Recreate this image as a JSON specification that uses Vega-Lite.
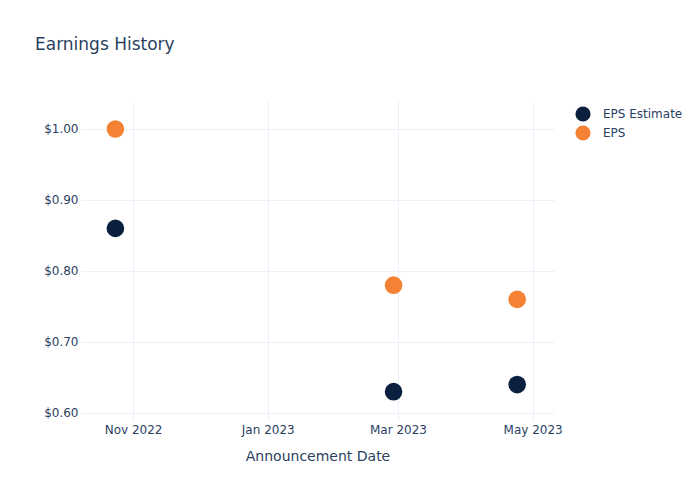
{
  "$schema": "https://vega.github.io/schema/vega-lite/v6.json",
  "width": 473,
  "height": 320,
  "autosize": {"type": "none"},
  "padding": {"left": 81, "top": 101, "right": 146, "bottom": 79},
  "background": "white",
  "title": {
    "text": "Earnings History",
    "anchor": "start",
    "frame": "group",
    "dx": -46,
    "offset": 47,
    "fontSize": 17,
    "font": "DejaVu Sans",
    "fontWeight": "normal",
    "color": "#2a3f5f"
  },
  "config": {
    "view": {"stroke": null},
    "font": "DejaVu Sans"
  },
  "data": {
    "values": [
      {"date": "2022-10-24", "series": "EPS Estimate", "value": 0.86},
      {"date": "2023-02-27", "series": "EPS Estimate", "value": 0.63},
      {"date": "2023-04-24", "series": "EPS Estimate", "value": 0.64},
      {"date": "2022-10-24", "series": "EPS", "value": 1.00},
      {"date": "2023-02-27", "series": "EPS", "value": 0.78},
      {"date": "2023-04-24", "series": "EPS", "value": 0.76}
    ]
  },
  "mark": {"type": "point", "shape": "circle", "filled": true, "opacity": 1, "size": 310},
  "encoding": {
    "x": {
      "field": "date",
      "type": "temporal",
      "scale": {
        "type": "utc",
        "domain": [
          {"year": 2022, "month": 10, "date": 8, "hours": 10, "utc": true},
          {"year": 2023, "month": 5, "date": 10, "hours": 16, "utc": true}
        ]
      },
      "axis": {
        "title": "Announcement Date",
        "values": [
          {"year": 2022, "month": 11, "date": 1, "utc": true},
          {"year": 2023, "month": 1, "date": 1, "utc": true},
          {"year": 2023, "month": 3, "date": 1, "utc": true},
          {"year": 2023, "month": 5, "date": 1, "utc": true}
        ],
        "labelExpr": "utcFormat(datum.value, '%b %Y')",
        "grid": true,
        "gridColor": "#ebf0f8",
        "gridWidth": 1,
        "domain": false,
        "ticks": false,
        "labelPadding": 3,
        "labelFontSize": 12,
        "labelColor": "#2a3f5f",
        "titleFontSize": 14,
        "titleFontWeight": "normal",
        "titleColor": "#2a3f5f",
        "titlePadding": 14
      }
    },
    "y": {
      "field": "value",
      "type": "quantitative",
      "scale": {"domain": [0.5887, 1.0394], "zero": false, "nice": false},
      "axis": {
        "title": null,
        "values": [0.6, 0.7, 0.8, 0.9, 1.0],
        "format": "$.2f",
        "grid": true,
        "gridColor": "#ebf0f8",
        "gridWidth": 1,
        "domain": false,
        "ticks": false,
        "labelPadding": 3,
        "labelFontSize": 12,
        "labelColor": "#2a3f5f"
      }
    },
    "color": {
      "field": "series",
      "type": "nominal",
      "scale": {"domain": ["EPS Estimate", "EPS"], "range": ["#0b1f3f", "#f58134"]},
      "legend": {
        "title": null,
        "orient": "none",
        "legendX": 494,
        "legendY": 5,
        "padding": 0,
        "symbolType": "circle",
        "symbolSize": 230,
        "symbolOpacity": 1,
        "symbolStrokeWidth": 0,
        "labelFontSize": 12,
        "labelColor": "#2a3f5f",
        "labelOffset": 12,
        "rowPadding": 3
      }
    }
  }
}
